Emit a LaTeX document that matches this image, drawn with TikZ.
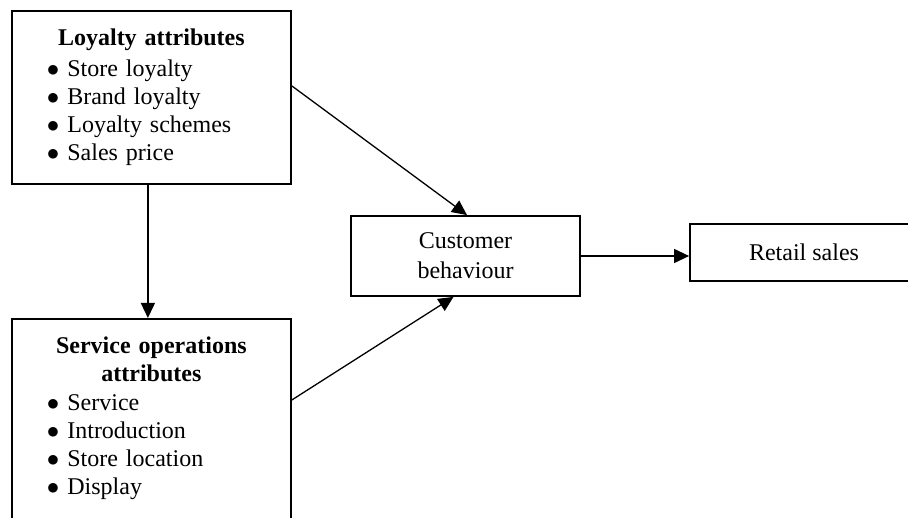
\documentclass[tikz,border=0pt]{standalone}
\usepackage{fontspec}
\setmainfont{Liberation Serif}
\usetikzlibrary{arrows.meta, positioning}
\newcommand{\bitem}{\par$\bullet$\hspace{8pt}}

\begin{document}
\begin{tikzpicture}[x=1pt, y=-1pt,
            every node/.style={
                font=\fontsize{24}{28}\selectfont
                },
            box/.style={
                draw,
                line width=1.8pt,
                inner sep=0pt
                },
            attrbox/.style={
                box,
                anchor=north west,
                text width=279pt,
                inner ysep=18pt
                },
            >={Triangle[length=15pt, width=14pt]},
            line width=1.3pt]

        \useasboundingbox (0,0) rectangle (908,518);
        \clip (0,0) rectangle (908,518);

        \node[attrbox, minimum height=173pt] (loyal) at (11,10) {%
            {\centering\bfseries Loyalty attributes\par}\vspace{3pt}%
            {\leftskip=35pt $\bullet$\hspace{8pt}Store loyalty\bitem Brand loyalty\bitem Loyalty schemes\bitem Sales price\par}};
        \node[attrbox] (service) at (11,318) {%
            {\centering\bfseries Service operations\\ attributes\par}\vspace{1pt}%
            {\leftskip=35pt $\bullet$\hspace{8pt}Service\bitem Introduction\bitem Store location\bitem Display\par}\strut};

        \node[box, minimum width=229pt, minimum height=80pt, align=center] (cust) at (465.5,256) {Customer\\[2pt]behaviour};
        \node[box, minimum width=228pt, minimum height=57pt] (retail) at (804,252.5) {Retail sales};

        \draw[->] ([xshift=-3.5pt]loyal.south) -- ([xshift=-3.5pt]service.north);
        \draw[->] ([yshift=11.5pt]loyal.east) -- ([xshift=1.5pt]cust.north);
        \draw[->] ([yshift=-82pt]service.north east) -- ([xshift=-12pt]cust.south);
        \draw[->] (cust.east) -- (cust.east -| retail.west);

    \end{tikzpicture}
\end{document}
